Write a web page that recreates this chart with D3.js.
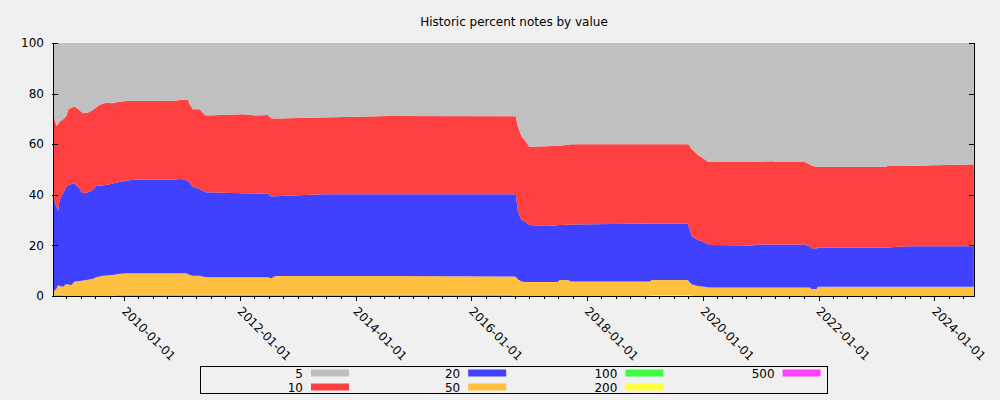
<!DOCTYPE html>
<html>
<head>
<meta charset="utf-8">
<script src="https://cdn.jsdelivr.net/npm/d3@7"></script>
<style>
  html, body { margin: 0; padding: 0; background: #f0f0f0; }
  svg { display: block; }
  text { font-family: "DejaVu Sans", sans-serif; font-size: 12px; fill: #000; }
</style>
</head>
<body>
<svg id="chart" width="1000" height="400"></svg>
<script>
// ---- data (percent share of notes by denomination) ----
const dates = ["2008-10-09","2008-10-31","2008-11-10","2008-11-20","2008-12-11","2009-01-02","2009-01-12","2009-02-03","2009-02-22","2009-03-15",
"2009-04-15","2009-05-17","2009-06-18","2009-07-09","2009-07-30","2009-08-20","2009-09-11","2009-10-23","2009-11-23","2010-01-16",
"2010-02-24","2010-11-04","2010-12-17","2011-01-19","2011-02-07","2011-02-18","2011-03-10","2011-04-22","2011-05-30","2012-01-19",
"2012-04-16","2012-06-25","2012-07-18","2012-08-14","2013-06-07","2014-08-04","2016-09-13","2016-09-20","2016-10-08","2016-10-22",
"2016-11-13","2016-12-04","2017-01-01","2017-04-19","2017-06-29","2017-07-12","2017-09-01","2017-09-24","2018-06-12","2019-02-01",
"2019-02-13","2019-09-28","2019-10-10","2019-10-21","2019-10-30","2019-11-30","2020-01-01","2020-02-02","2020-02-15","2020-11-12",
"2020-11-25","2021-03-17","2021-04-05","2021-10-06","2021-11-07","2021-11-18","2021-12-19","2021-12-27","2023-03-04","2023-03-12",
"2023-07-17","2024-01-05","2024-08-25","2024-09-07"];

const pct5 = [27.7,32.8,32.0,31.1,30.2,28.9,26.5,25.5,25.2,26.0,
27.8,27.6,26.5,25.5,24.5,24.0,23.6,23.8,23.3,22.9,
22.9,22.9,22.5,22.3,22.5,24.1,26.2,26.2,28.7,28.2,
28.7,28.5,29.8,29.8,29.4,28.9,29.0,29.0,29.1,33.1,
37.0,38.3,41.0,40.8,40.6,40.6,40.2,40.0,40.0,40.0,
40.0,40.0,40.5,41.8,42.3,44.2,45.5,46.9,47.0,47.0,
47.0,46.7,47.0,47.0,48.0,48.5,48.9,48.9,48.9,48.6,
48.6,48.3,48.0,48.0];

const pct10 = [33.0,31.9,34.3,31.0,29.2,27.9,29.7,30.2,30.3,30.8,
31.6,31.4,31.6,31.0,31.8,32.2,32.5,31.7,31.7,31.5,
31.2,31.2,31.3,31.7,32.0,31.1,30.6,31.5,30.3,31.2,
30.8,31.1,30.9,30.8,30.4,30.9,30.8,30.8,30.7,33.6,
33.0,32.2,30.9,31.5,31.4,31.3,31.6,31.7,31.5,31.3,
31.3,31.3,33.0,34.1,34.4,33.7,33.0,32.5,32.8,33.0,
32.6,32.9,32.6,32.6,32.5,32.6,32.3,31.9,31.9,32.2,
31.7,32.0,32.3,32.2];

const pct20 = [37.8,32.3,29.4,33.9,36.9,38.5,39.3,40.0,38.8,37.4,
34.5,34.6,35.1,36.1,36.0,35.8,35.8,36.2,36.3,36.6,
36.9,36.9,37.2,37.0,36.7,36.5,35.2,34.3,33.6,33.2,
33.1,33.0,32.3,31.5,32.3,32.3,32.5,32.5,32.6,26.8,
24.3,24.0,22.6,22.2,22.5,21.8,21.9,22.6,22.8,23.0,
22.4,22.4,21.0,19.4,18.8,18.1,17.7,17.1,16.8,16.6,
17.0,17.0,17.0,17.0,16.1,16.1,16.0,15.5,15.5,15.5,
16.0,16.0,16.0,16.0];

const pct50 = [1.0,2.5,3.8,3.5,3.2,4.7,4.5,4.3,5.7,5.8,
6.1,6.4,6.8,7.4,7.7,8.0,8.1,8.3,8.2,8.5,
8.5,8.5,8.5,8.5,8.3,7.8,7.5,7.5,6.9,6.9,
6.9,6.9,6.5,7.4,7.4,7.4,7.2,7.7,7.6,6.5,
5.7,5.5,5.5,5.5,5.5,6.3,6.3,5.7,5.7,5.7,
6.0,6.0,5.2,4.4,4.5,4.0,3.8,3.5,3.4,3.4,
3.4,3.4,3.4,3.4,3.4,2.8,2.8,3.7,3.7,3.7,
3.7,3.7,3.7,3.8];

const pct100 = [0.5,0.5,0.5,0.5,0.5,0,0,0,0,0,
0,0,0,0,0,0,0,0,0.5,0.5,
0.5,0.5,0.5,0.5,0.5,0.5,0.5,0.5,0.5,0.5,
0.5,0.5,0.5,0.5,0.5,0.5,0.5,0,0,0,
0,0,0,0,0,0,0,0,0,0,
0,0,0,0,0,0,0,0,0,0,
0,0,0,0,0,0,0,0,0,0,
0,0,0,0];

const pct200 = [0,0,0,0,0,0,0,0,0,0,
0,0,0,0,0,0,0,0,0,0,
0,0,0,0,0,0,0,0,0,0,
0,0,0,0,0,0,0,0,0,0,
0,0,0,0,0,0,0,0,0,0,
0.3,0.3,0.3,0.3,0,0,0,0,0,0,
0,0,0,0,0,0,0,0,0,0,
0,0,0,0];

const pct500 = new Array(dates.length).fill(0);

const denominations = ["5","10","20","50","100","200","500"];
const seriesValues = {"5": pct5, "10": pct10, "20": pct20, "50": pct50, "100": pct100, "200": pct200, "500": pct500};
const colors = {"5":"#c0c0c0","10":"#ff4040","20":"#4040ff","50":"#ffc040","100":"#40ff40","200":"#ffff40","500":"#ff40ff"};
const stackOrder = ["500","200","100","50","20","10","5"]; // bottom to top
const yTicks = [0,20,40,60,80,100];
const xDomain = ["2008-10-09","2024-09-08"];
const titleText = "Historic percent notes by value";

// ---- build ----
const parse = d3.utcParse("%Y-%m-%d");
const rows = dates.map((d, i) => {
  const r = {date: parse(d)};
  denominations.forEach(k => r[k] = seriesValues[k][i]);
  return r;
});

const svg = d3.select("#chart");
const L = 53, R = 974, T = 43, B = 296;

const x = d3.scaleUtc().domain(xDomain.map(parse)).range([L, R]);
const y = d3.scaleLinear().domain([0, 100]).range([B, T]);

const stacked = d3.stack().keys(stackOrder)(rows);
const area = d3.area()
  .x(d => x(d.data.date))
  .y0(d => y(d[0]))
  .y1(d => y(d[1]))
  .curve(d3.curveLinear);

svg.append("g").selectAll("path")
  .data(stacked)
  .join("path")
  .attr("fill", s => colors[s.key])
  .attr("d", area);

// title
svg.append("text")
  .attr("x", (L + R) / 2 + 0.5)
  .attr("y", 26)
  .attr("text-anchor", "middle")
  .text(titleText);

// y axis (left) - ticks inward
const yL = svg.append("g").attr("transform", `translate(${L},0)`);
yL.append("line").attr("x1", 0.5).attr("x2", 0.5).attr("y1", T).attr("y2", B + 0.5).attr("stroke", "#000");
yTicks.forEach(t => {
  const yy = Math.round(y(t)) + 0.5;
  yL.append("line").attr("x1", -1).attr("x2", 5).attr("y1", yy).attr("y2", yy).attr("stroke", "#000");
  yL.append("text").attr("x", -9).attr("y", y(t)).attr("dy", "0.35em").attr("text-anchor", "end").text(t);
});

// right axis - ticks inward, no labels
const yR = svg.append("g").attr("transform", `translate(${R},0)`);
yR.append("line").attr("x1", 0.5).attr("x2", 0.5).attr("y1", T).attr("y2", B + 0.5).attr("stroke", "#000");
yTicks.forEach(t => {
  const yy = Math.round(y(t)) + 0.5;
  yR.append("line").attr("x1", -5).attr("x2", 0.5).attr("y1", yy).attr("y2", yy).attr("stroke", "#000");
});

// x axis
const xg = svg.append("g");
xg.append("line").attr("x1", L).attr("x2", R + 1).attr("y1", B + 0.5).attr("y2", B + 0.5).attr("stroke", "#000");
const minor = d3.utcMonth.every(3).range(x.domain()[0], x.domain()[1]);
minor.forEach(d => {
  const xx = Math.round(x(d)) + 0.5;
  xg.append("line").attr("x1", xx).attr("x2", xx).attr("y1", B).attr("y2", B + 3).attr("stroke", "#000");
});
const major = d3.utcYear.every(2).range(x.domain()[0], x.domain()[1]);
const fmt = d3.utcFormat("%Y-%m-%d");
major.forEach(d => {
  const xx = Math.round(x(d)) + 0.5;
  xg.append("line").attr("x1", xx).attr("x2", xx).attr("y1", B).attr("y2", B + 5).attr("stroke", "#000");
  xg.append("text")
    .attr("transform", `translate(${x(d) - 3},${312}) rotate(45)`)
    .text(fmt(d));
});

// legend
const lg = svg.append("g");
lg.append("rect").attr("x", 200.5).attr("y", 366.5).attr("width", 627).attr("height", 27)
  .attr("fill", "none").attr("stroke", "#000");
denominations.forEach((k, i) => {
  const col = Math.floor(i / 2), row = i % 2;
  const tx = 303 + col * 157.2;
  const ty = 373.5 + row * 14;
  lg.append("text").attr("x", tx).attr("y", ty).attr("dy", "0.35em").attr("text-anchor", "end").text(k);
  lg.append("rect").attr("x", tx + 8).attr("y", ty - 4).attr("width", 38).attr("height", 7).attr("fill", colors[k]);
});
</script>
</body>
</html>
